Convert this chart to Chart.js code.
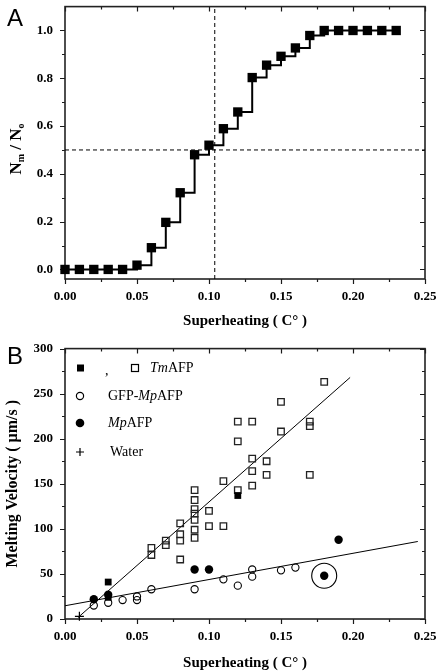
<!DOCTYPE html>
<html><head><meta charset="utf-8">
<script src="https://cdn.jsdelivr.net/npm/chart.js@4.4.0/dist/chart.umd.min.js"></script>
<style>
html,body{margin:0;padding:0;background:#fff;width:442px;height:672px;overflow:hidden}
#wa{position:absolute;left:0;top:0;width:442px;height:335px}
#wb{position:absolute;left:0;top:335px;width:442px;height:337px}
</style></head><body>
<div id="wa"><canvas id="ca"></canvas></div>
<div id="wb"><canvas id="cb"></canvas></div>
<script>
// ---------- Panel A data ----------
const aSuperheating = [0,0.01,0.02,0.03,0.04,0.05,0.06,0.07,0.08,0.09,0.10,0.11,0.12,0.13,0.14,0.15,0.16,0.17,0.18,0.19,0.20,0.21,0.22,0.23];
const aFraction = [0,0,0,0,0,0.018,0.091,0.197,0.321,0.48,0.52,0.589,0.659,0.803,0.855,0.892,0.927,0.979,1,1,1,1,1,1];
const aHalfX = 0.104;   // vertical dashed marker
const aHalfY = 0.5;     // horizontal dashed marker
const xTickValues = [0,0.05,0.10,0.15,0.20,0.25];
const xTickLabels = ['0.00','0.05','0.10','0.15','0.20','0.25'];
const aYTickValues = [0,0.2,0.4,0.6,0.8,1.0];
const aYTickLabels = ['0.0','0.2','0.4','0.6','0.8','1.0'];

// ---------- Panel B data ----------
const tmOpenX = [0.06,0.06,0.07,0.07,0.08,0.08,0.08,0.08,0.09,0.09,0.09,0.09,0.09,0.09,0.09,0.10,0.10,0.11,0.11,0.12,0.12,0.12,0.13,0.13,0.13,0.13,0.14,0.14,0.15,0.15,0.17,0.17,0.17,0.18];
const tmOpenY = [79,71,87,82,106,94,87,66,143,132,122,117,110,99,90,120,103,153,103,219,197,143,219,178,164,148,175,160,241,208,219,214,160,263];
const tmFilledX = [0.03,0.03,0.12];
const tmFilledY = [41,24,137];
const gfpX = [0.02,0.03,0.04,0.05,0.05,0.06,0.09,0.11,0.12,0.13,0.13,0.15,0.16];
const gfpY = [15,18,21,25,21,33,33,44,37,55,47,54,57];
const mpX = [0.02,0.03,0.09,0.10,0.18,0.19];
const mpY = [22,27,55,55,48,88];
const waterX = [0.01];
const waterY = [3];
const ringX = [0.18];
const ringY = [48];
const tmFitX = [0.009,0.198];
const tmFitY = [1.6,268];
const gfpFitX = [0,0.245];
const gfpFitY = [14.7,86];
const bYTickValues = [0,50,100,150,200,250,300];
const bYTickLabels = ['0','50','100','150','200','250','300'];

const SERIF = '"Liberation Serif","Times New Roman",serif';
const SANS = '"Liberation Sans",Arial,sans-serif';
const pts = (xs, ys) => xs.map((x, i) => ({x, y: ys[i]}));

// frame + tick marks on all four sides
const frameTicks = {
  id: 'frameTicks',
  beforeDatasetsDraw(chart, args, o) {
    const {ctx, chartArea: {left, right, top, bottom}, scales: {x, y}} = chart;
    ctx.save();
    ctx.strokeStyle = '#1a1a1a';
    ctx.lineWidth = 1.2;
    const xs = [];
    o.xMajor.forEach((v, i) => { xs.push([v, 5]); if (i < o.xMajor.length - 1) xs.push([(v + o.xMajor[i + 1]) / 2, 3]); });
    const ys = [];
    o.yMajor.forEach((v, i) => { ys.push([v, 5]); if (i < o.yMajor.length - 1) ys.push([(v + o.yMajor[i + 1]) / 2, 3]); });
    ctx.beginPath();
    xs.forEach(([v, l]) => {
      const p = Math.round(x.getPixelForValue(v)) + 0.5;
      ctx.moveTo(p, bottom); ctx.lineTo(p, bottom + l);
      ctx.moveTo(p, top); ctx.lineTo(p, top + l);
    });
    ys.forEach(([v, l]) => {
      const p = Math.round(y.getPixelForValue(v)) + 0.5;
      if (p < top - 0.5 || p > bottom + 0.5) return;
      ctx.moveTo(left, p); ctx.lineTo(left - l, p);
      ctx.moveTo(right, p); ctx.lineTo(right - l, p);
    });
    ctx.stroke();
    ctx.lineWidth = 1.6;
    ctx.strokeStyle = '#222';
    ctx.strokeRect(left, top, right - left, bottom - top);
    ctx.restore();
  }
};

const decorA = {
  id: 'decorA',
  afterDraw(chart) {
    const ctx = chart.ctx;
    ctx.save();
    ctx.fillStyle = '#000';
    ctx.font = '24px ' + SANS;
    ctx.textBaseline = 'alphabetic';
    ctx.fillText('A', 7, 26);
    // y title  N_m / N_o
    const cx = 16, cy = 149;
    ctx.translate(cx, cy);
    ctx.rotate(-Math.PI / 2);
    const big = 'bold 17px ' + SERIF, small = 'bold 10px ' + SERIF;
    const parts = [['N', big, 0], ['m', small, 4], [' / ', big, 0], ['N', big, 0], ['o', small, 4]];
    let w = 0;
    parts.forEach(p => { ctx.font = p[1]; w += ctx.measureText(p[0]).width; });
    let xx = -w / 2;
    ctx.textBaseline = 'middle';
    parts.forEach(p => { ctx.font = p[1]; ctx.fillText(p[0], xx, 1 + p[2]); xx += ctx.measureText(p[0]).width; });
    ctx.restore();
  }
};

const decorB = {
  id: 'decorB',
  afterDraw(chart) {
    const ctx = chart.ctx;
    ctx.save();
    ctx.fillStyle = '#000';
    ctx.strokeStyle = '#000';
    ctx.font = '24px ' + SANS;
    ctx.fillText('B', 7, 29);
    // legend (canvas coords, panel B origin at page y=335)
    const oy = 335;
    const rowY = [368, 396, 423, 452].map(v => v - oy);
    ctx.textBaseline = 'middle';
    const rich = (segs, x0, yy) => {
      let xx = x0;
      segs.forEach(([t, it]) => {
        ctx.font = (it ? 'italic ' : '') + '14px ' + SERIF;
        ctx.fillText(t, xx, yy);
        xx += ctx.measureText(t).width;
      });
    };
    ctx.fillRect(77, rowY[0] - 3.5, 7, 7);
    ctx.font = '14px ' + SERIF;
    ctx.fillText(',', 105, rowY[0] + 3);
    ctx.lineWidth = 1.2;
    ctx.strokeRect(131.5, rowY[0] - 3.5, 7, 7);
    rich([['Tm', true], ['AFP', false]], 150, rowY[0]);
    ctx.beginPath(); ctx.arc(80, rowY[1], 3.6, 0, Math.PI * 2); ctx.stroke();
    rich([['GFP-', false], ['Mp', true], ['AFP', false]], 108, rowY[1]);
    ctx.beginPath(); ctx.arc(80, rowY[2], 4.3, 0, Math.PI * 2); ctx.fill();
    rich([['Mp', true], ['AFP', false]], 108, rowY[2]);
    ctx.beginPath();
    ctx.moveTo(76, rowY[3]); ctx.lineTo(84, rowY[3]);
    ctx.moveTo(80, rowY[3] - 4); ctx.lineTo(80, rowY[3] + 4);
    ctx.stroke();
    rich([['Water', false]], 110, rowY[3]);
    ctx.restore();
  }
};

const tickFont = {family: SERIF, size: 13, weight: 'bold'};
const titleFont = {family: SERIF, size: 15, weight: 'bold'};
const noPad = s => { s.paddingTop = 0; s.paddingBottom = 0; s.paddingLeft = 0; s.paddingRight = 0; };

function xScale(height, titlePadBottom) {
  return {
    type: 'linear', min: 0, max: 0.25,
    afterBuildTicks: s => { s.ticks = xTickValues.map(v => ({value: v})); },
    afterFit: s => { s.height = height; noPad(s); },
    ticks: {color: '#000', font: tickFont, padding: 10, maxRotation: 0, autoSkip: false,
      callback: (v, i) => xTickLabels[i]},
    grid: {display: false, drawTicks: false},
    border: {display: false},
    title: {display: true, text: 'Superheating ( C° )', color: '#000', font: titleFont,
      padding: {top: 0, bottom: titlePadBottom}}
  };
}

// ---------- Chart A ----------
new Chart(document.getElementById('ca'), {
  type: 'scatter',
  data: {datasets: [
    {data: pts(aSuperheating, aFraction), showLine: true, stepped: true,
     borderColor: '#000', borderWidth: 2, backgroundColor: '#000',
     pointStyle: 'rect', pointRadius: 6.6, pointBorderWidth: 0, clip: false},
    {data: [{x: aHalfX, y: -0.04}, {x: aHalfX, y: 1.1}], showLine: true, borderColor: '#000',
     borderWidth: 1, borderDash: [4, 3], pointRadius: 0},
    {data: [{x: 0, y: aHalfY}, {x: 0.25, y: aHalfY}], showLine: true, borderColor: '#000',
     borderWidth: 1, borderDash: [4, 3], pointRadius: 0}
  ]},
  options: {
    responsive: true, maintainAspectRatio: false, animation: false,
    layout: {padding: {left: 0, top: 4, right: 17, bottom: 0}},
    plugins: {legend: {display: false}, tooltip: {enabled: false},
      frameTicks: {xMajor: xTickValues, yMajor: aYTickValues}},
    scales: {
      x: xScale(56, 5),
      y: {type: 'linear', min: -0.04, max: 1.1,
        afterBuildTicks: s => { s.ticks = aYTickValues.map(v => ({value: v})); },
        afterFit: s => { s.width = 65; noPad(s); },
        ticks: {color: '#000', font: tickFont, padding: 12, callback: (v, i) => aYTickLabels[i]},
        grid: {display: false, drawTicks: false}, border: {display: false},
        title: {display: false}}
    }
  },
  plugins: [frameTicks, decorA]
});

// ---------- Chart B ----------
new Chart(document.getElementById('cb'), {
  type: 'scatter',
  data: {datasets: [
    {data: pts(mpX, mpY), pointStyle: 'circle', pointRadius: 4.2, backgroundColor: '#000',
     borderColor: '#000', pointBorderWidth: 0, clip: false},
    {data: pts(tmFilledX, tmFilledY), pointStyle: 'rect', pointRadius: 4.8, backgroundColor: '#000',
     borderColor: '#000', pointBorderWidth: 0, clip: false},
    {data: pts(tmOpenX, tmOpenY), pointStyle: 'rect', pointRadius: 4.6, backgroundColor: 'rgba(255,255,255,0)',
     borderColor: '#222', pointBorderWidth: 1.3, clip: false},
    {data: pts(gfpX, gfpY), pointStyle: 'circle', pointRadius: 3.6, backgroundColor: 'rgba(255,255,255,0)',
     borderColor: '#000', pointBorderWidth: 1.1, clip: false},
    {data: pts(waterX, waterY), pointStyle: 'cross', pointRadius: 4.5, borderColor: '#000',
     pointBorderWidth: 1.2, clip: false},
    {data: pts(ringX, ringY), pointStyle: 'circle', pointRadius: 12.5, backgroundColor: 'rgba(255,255,255,0)',
     borderColor: '#000', pointBorderWidth: 1.1, clip: false},
    {data: pts(tmFitX, tmFitY), showLine: true, borderColor: '#000', borderWidth: 1, pointRadius: 0},
    {data: pts(gfpFitX, gfpFitY), showLine: true, borderColor: '#000', borderWidth: 1, pointRadius: 0}
  ]},
  options: {
    responsive: true, maintainAspectRatio: false, animation: false,
    layout: {padding: {left: 0, top: 12, right: 17, bottom: 0}},
    plugins: {legend: {display: false}, tooltip: {enabled: false},
      frameTicks: {xMajor: xTickValues, yMajor: bYTickValues}},
    scales: {
      x: xScale(53, 0),
      y: {type: 'linear', min: 0, max: 300,
        afterBuildTicks: s => { s.ticks = bYTickValues.map(v => ({value: v})); },
        afterFit: s => { s.width = 65; noPad(s); },
        ticks: {color: '#000', font: tickFont, padding: 12, callback: (v, i) => bYTickLabels[i]},
        grid: {display: false, drawTicks: false}, border: {display: false},
        title: {display: true, text: 'Melting Velocity ( μm/s )', color: '#000',
          font: {family: SERIF, size: 16, weight: 'bold'}, padding: {top: 3, bottom: 0}}}
    }
  },
  plugins: [frameTicks, decorB]
});
</script>
</body></html>
